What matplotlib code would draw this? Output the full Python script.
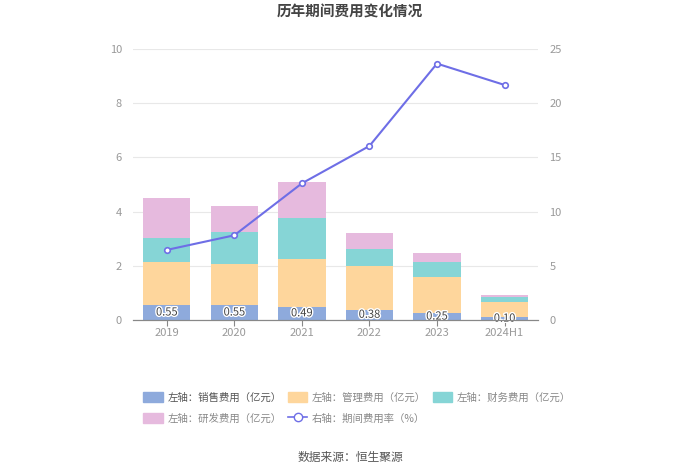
import numpy as np
import matplotlib.pyplot as plt
import matplotlib.patheffects as pe
from matplotlib.patches import Patch
from matplotlib.lines import Line2D

plt.rcParams['font.family'] = ['Noto Sans CJK SC', 'DejaVu Sans']

# data
years = ['2019', '2020', '2021', '2022', '2023', '2024H1']
sales = [0.55, 0.55, 0.49, 0.38, 0.25, 0.10]
manage = [1.60, 1.52, 1.77, 1.60, 1.33, 0.56]
finance = [0.88, 1.19, 1.51, 0.65, 0.57, 0.18]
rnd = [1.47, 0.96, 1.33, 0.59, 0.31, 0.08]
rate = [6.46, 7.81, 12.6, 16.05, 23.65, 21.68]
sales_labels = ['0.55', '0.55', '0.49', '0.38', '0.25', '0.10']

c_sales = '#8eaadc'
c_manage = '#fed69c'
c_fin = '#86d5d6'
c_rnd = '#e6bade'
c_line = '#6e6ee6'

fig = plt.figure(figsize=(7, 4.74), dpi=100)
ax = fig.add_axes([0.19, 0.325, 0.579, 0.5717])
ax2 = ax.twinx()

x = np.arange(len(years))
w = 0.7
b1 = np.array(sales)
b2 = b1 + np.array(manage)
b3 = b2 + np.array(finance)
ax.bar(x, sales, w, color=c_sales, zorder=2)
ax.bar(x, manage, w, bottom=b1, color=c_manage, zorder=2)
ax.bar(x, finance, w, bottom=b2, color=c_fin, zorder=2)
ax.bar(x, rnd, w, bottom=b3, color=c_rnd, zorder=2)

for i, v in enumerate(sales):
    ax.text(x[i], v / 2, sales_labels[i], ha='center', va='center', fontsize=8,
            color='#444444', zorder=5,
            path_effects=[pe.withStroke(linewidth=2, foreground='white')])

ax2.plot(x, rate, color=c_line, lw=1.5, marker='o', ms=4,
         markerfacecolor='white', markeredgecolor=c_line, markeredgewidth=1.2, zorder=4)

ax.set_xlim(-0.5, len(years) - 0.5)
ax.set_ylim(0, 10)
ax2.set_ylim(0, 25)
ax.set_yticks([0, 2, 4, 6, 8, 10])
ax2.set_yticks([0, 5, 10, 15, 20, 25])
ax.set_xticks(x)
ax.set_xticklabels(years)

ax.grid(axis='y', color='#e8e8e8', lw=0.8, zorder=0)
ax.set_axisbelow(True)
for a in (ax, ax2):
    for s in ['top', 'left', 'right']:
        a.spines[s].set_visible(False)
    a.spines['bottom'].set_color('#888888')
ax.tick_params(axis='y', length=0, labelsize=8, labelcolor='#999999', pad=8)
ax2.tick_params(axis='y', length=0, labelsize=8, labelcolor='#999999', pad=8)
ax.tick_params(axis='x', length=4, color='#888888', labelsize=8, labelcolor='#999999', pad=2)

fig.text(0.5, 0.975, '历年期间费用变化情况', ha='center', va='center',
         fontsize=10.5, fontweight='bold', color='#444444')

h_sales = Patch(color=c_sales)
h_manage = Patch(color=c_manage)
h_fin = Patch(color=c_fin)
h_rnd = Patch(color=c_rnd)
h_rate = Line2D([0], [0], color=c_line, lw=1.2, marker='o', ms=6, markerfacecolor='white',
                markeredgecolor=c_line)
# legend fills column by column, so order for rows: A B C / D E
handles = [h_sales, h_rnd, h_manage, h_rate, h_fin]
names = ['左轴：销售费用（亿元）', '左轴：研发费用（亿元）', '左轴：管理费用（亿元）',
         '右轴：期间费用率（%）', '左轴：财务费用（亿元）']
leg = fig.legend(handles, names, loc='upper left', bbox_to_anchor=(0.204, 0.173),
                 ncol=3, frameon=False, fontsize=7.5, handlelength=1.9, handleheight=1.1,
                 handletextpad=0.45, columnspacing=0.6, labelspacing=1.0,
                 borderaxespad=0, borderpad=0)
for i, t in enumerate(leg.get_texts()):
    t.set_color('#555555' if i == 0 else '#888888')

fig.text(0.5, 0.035, '数据来源：恒生聚源', ha='center', va='center', fontsize=8.5, color='#555555')

fig.savefig('out.png', dpi=100)
